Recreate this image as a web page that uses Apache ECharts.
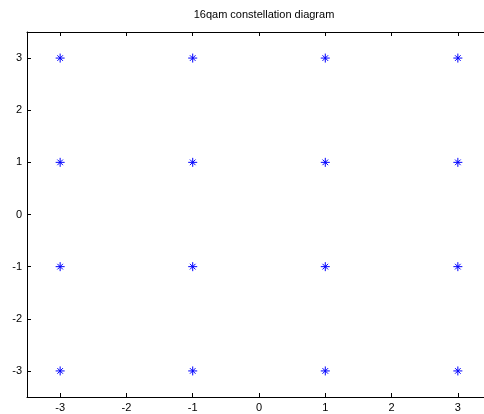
<!DOCTYPE html>
<html>
<head>
<meta charset="utf-8">
<script src="https://cdn.jsdelivr.net/npm/echarts@6/dist/echarts.min.js"></script>
<style>
    html, body { margin: 0; padding: 0; background: #fff; overflow: hidden; }
    #chart { width: 491px; height: 414px; }
</style>
</head>
<body>
<div id="chart"></div>
<script>
// 16-QAM symbol points (in-phase / quadrature)
var inPhase = [-3, -1, 1, 3, -3, -1, 1, 3, -3, -1, 1, 3, -3, -1, 1, 3];
var quadrature = [3, 3, 3, 3, 1, 1, 1, 1, -1, -1, -1, -1, -3, -3, -3, -3];
var xTicks = [-3, -2, -1, 0, 1, 2, 3];
var yTicks = [-3, -2, -1, 0, 1, 2, 3];

var points = inPhase.map(function (v, i) { return [v, quadrature[i]]; });

var font = 'Liberation Sans, Arial, sans-serif';

function axis(pos, showLabels, ticks) {
    return {
        type: 'value',
        position: pos,
        min: -3.5,
        max: 3.5,
        axisLine: { show: true, onZero: false, lineStyle: { color: '#000', width: 1 } },
        axisTick: { show: true, inside: true, length: 4, customValues: ticks, lineStyle: { color: '#000' } },
        axisLabel: {
            show: showLabels,
            customValues: ticks,
            color: '#000',
            fontFamily: font,
            fontSize: 11,
            margin: 5
        },
        splitLine: { show: false }
    };
}

var chart = echarts.init(document.getElementById('chart'));
chart.setOption({
    animation: false,
    title: {
        text: '16qam constellation diagram',
        left: 259,
        textAlign: 'center',
        top: 4,
        textStyle: { fontFamily: font, fontSize: 11, fontWeight: 'normal', color: '#000' }
    },
    grid: { left: 27, right: 0, top: 32, bottom: 17 },
    xAxis: [axis('bottom', true, xTicks), axis('top', false, xTicks)],
    yAxis: [axis('left', true, yTicks), axis('right', false, yTicks)],
    series: [{
        type: 'scatter',
        data: points,
        symbol: 'path://M0 4L8 4M4 0L4 8M1.5 1.5L6.5 6.5M6.5 1.5L1.5 6.5',
        symbolSize: 9,
        itemStyle: { color: 'transparent', borderColor: '#0000ff', borderWidth: 1, opacity: 1 }
    }]
});
</script>
</body>
</html>
